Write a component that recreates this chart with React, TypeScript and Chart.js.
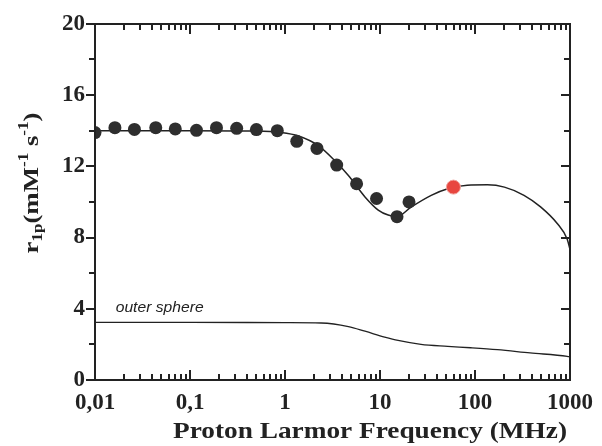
import React, { useEffect, useRef } from "react";
import { Chart, registerables } from "chart.js";

Chart.register(...registerables);

// ---- data ----
const xTickValues = [0.01, 0.1, 1, 10, 100, 1000];
const yTickValues = [0, 4, 8, 12, 16, 20];

const measFreq = [0.01, 0.0162, 0.026, 0.0436, 0.07, 0.117, 0.19, 0.31, 0.5, 0.83, 1.33, 2.17, 3.5, 5.67, 9.2, 15.1, 20.2];
const measR1 = [13.89, 14.17, 14.07, 14.17, 14.1, 14.02, 14.17, 14.13, 14.06, 14.0, 13.4, 13.0, 12.07, 11.02, 10.19, 9.17, 10.0];

const redFreq = [59.3];
const redR1 = [10.83];

const fitFreq = [0.01, 0.1, 0.5, 0.9, 1.39, 2.26, 3.37, 4.65, 6.95, 9.58, 12.2, 15.1, 21.4, 34.6, 51.6, 83, 135, 204, 328, 490, 730, 935, 1000];
const fitR1 = [14.0, 14.0, 13.98, 13.9, 13.7, 13.15, 12.3, 11.48, 10.28, 9.54, 9.26, 9.17, 9.72, 10.37, 10.74, 10.94, 10.96, 10.83, 10.37, 9.72, 8.8, 7.9, 7.33];

const osFreq = [0.01, 0.1, 1, 2.4, 4.65, 6.95, 11.2, 15.5, 27, 51.6, 90, 172, 380, 935, 1000];
const osR1 = [3.24, 3.24, 3.22, 3.2, 3.0, 2.74, 2.41, 2.22, 2.0, 1.89, 1.81, 1.7, 1.52, 1.33, 1.3];

const minorMultipliers = [1, 2, 3, 4, 5, 6, 7, 8, 9];
const yMinorTicks = [0, 2, 4, 6, 8, 10, 12, 14, 16, 18, 20];

const xTitle = "Proton Larmor Frequency (MHz)";
const osLabel = "outer sphere";

const INK = "#222222";
const SERIF = '"Liberation Serif", "Times New Roman", serif';

const pts = (xs: number[], ys: number[]) => xs.map((x, i) => ({ x, y: ys[i] }));

function drawStretched(ctx: CanvasRenderingContext2D, text: string, cx: number, baseline: number, targetW: number, align: "center" | "left") {
  const w = ctx.measureText(text).width;
  const s = targetW / w;
  ctx.save();
  ctx.translate(align === "center" ? cx - targetW / 2 : cx, baseline);
  ctx.scale(s, 1);
  ctx.textAlign = "left";
  ctx.textBaseline = "alphabetic";
  ctx.fillText(text, 0, 0);
  ctx.restore();
}

const framePlugin = {
  id: "frame",
  afterDraw(chart: any) {
    const { ctx, chartArea: a, scales } = chart;
    ctx.save();
    ctx.fillStyle = INK;
    const L = Math.round(a.left), R = Math.round(a.right), T = Math.round(a.top), B = Math.round(a.bottom);
    // frame
    ctx.fillRect(L - 1, T - 1, R - L + 2, 2);
    ctx.fillRect(L - 1, B - 1, R - L + 2, 2);
    ctx.fillRect(L - 1, T - 1, 2, B - T + 2);
    ctx.fillRect(R - 1, T - 1, 2, B - T + 2);

    // x ticks: decades long, minors short; inward on bottom and top
    for (const dec of xTickValues) {
      for (const m of minorMultipliers) {
        const v = dec * m;
        if (v > 1000.0001) continue;
        const px = Math.round(scales.x.getPixelForValue(v));
        const len = m === 1 ? 10 : 6;
        ctx.fillRect(px - 1, B - len, 2, len);
        ctx.fillRect(px - 1, T, 2, len);
      }
    }
    // y ticks: outward on left, inward on right
    for (const v of yMinorTicks) {
      const py = Math.round(scales.y.getPixelForValue(v));
      const len = v % 4 === 0 ? 9 : 6;
      ctx.fillRect(L - len, py - 1, len, 2);
      ctx.fillRect(R - len, py - 1, len, 2);
    }

    // x title
    ctx.font = `bold 23px ${SERIF}`;
    drawStretched(ctx, xTitle, 370, 438, 394, "center");

    // outer sphere label
    ctx.font = 'italic 14px "Liberation Sans", Arial, sans-serif';
    const lx = scales.x.getPixelForValue(0.0165);
    drawStretched(ctx, osLabel, lx, 312, 88, "left");

    // y title: r_1p (mM^-1 s^-1)
    const parts: [string, "n" | "sub" | "sup"][] = [
      ["r", "n"], ["1p", "sub"], ["(mM", "n"], ["-1", "sup"], [" s", "n"], ["-1", "sup"], [")", "n"],
    ];
    const bigF = `bold 22px ${SERIF}`;
    const smallF = `bold 14px ${SERIF}`;
    let total = 0;
    const widths = parts.map(([t, k]) => {
      ctx.font = k === "n" ? bigF : smallF;
      const w = ctx.measureText(t).width;
      total += w;
      return w;
    });
    const s = 141 / total;
    ctx.translate(38, 183);
    ctx.rotate(-Math.PI / 2);
    ctx.scale(s, 1);
    let x = -total / 2;
    ctx.textAlign = "left";
    ctx.textBaseline = "alphabetic";
    parts.forEach(([t, k], i) => {
      ctx.font = k === "n" ? bigF : smallF;
      const dy = k === "sub" ? 4 : k === "sup" ? -10 : 0;
      ctx.fillText(t, x, dy);
      x += widths[i];
    });
    ctx.restore();
  },
};

export default function App() {
  const ref = useRef<HTMLCanvasElement>(null);

  useEffect(() => {
    document.body.style.margin = "0";
    const canvas = ref.current;
    if (!canvas) return;
    const chart = new Chart(canvas, {
      type: "scatter",
      data: {
        datasets: [
          {
            label: "fit",
            type: "line",
            data: pts(fitFreq, fitR1),
            borderColor: INK,
            borderWidth: 1.5,
            pointRadius: 0,
            cubicInterpolationMode: "monotone",
            fill: false,
            order: 3,
          } as any,
          {
            label: "outer sphere",
            type: "line",
            data: pts(osFreq, osR1),
            borderColor: INK,
            borderWidth: 1.3,
            pointRadius: 0,
            cubicInterpolationMode: "monotone",
            fill: false,
            order: 3,
          } as any,
          {
            label: "measured",
            data: pts(measFreq, measR1),
            backgroundColor: "#2e2e2e",
            borderColor: "#2e2e2e",
            pointRadius: 6.5,
            borderWidth: 0,
            order: 1,
          },
          {
            label: "red",
            data: pts(redFreq, redR1),
            backgroundColor: "#e8463f",
            borderColor: "#f0a09a",
            pointRadius: 7,
            borderWidth: 1,
            order: 0,
          },
        ],
      },
      options: {
        responsive: false,
        animation: false,
        layout: { padding: { top: 21, right: 29, left: 0, bottom: 0 } },
        plugins: { legend: { display: false }, tooltip: { enabled: false } },
        scales: {
          x: {
            type: "logarithmic",
            min: 0.01,
            max: 1000,
            grid: { display: false, drawTicks: false },
            border: { display: false },
            afterBuildTicks: (scale: any) => {
              scale.ticks = xTickValues.map((v) => ({ value: v }));
            },
            afterFit: (scale: any) => {
              scale.height = 66;
            },
            ticks: {
              autoSkip: false,
              maxRotation: 0,
              padding: 9,
              color: INK,
              font: { family: SERIF, size: 23, weight: "bold" },
              callback: (v: any) => String(Number(v)).replace(".", ","),
            },
          },
          y: {
            type: "linear",
            min: 0,
            max: 20,
            grid: { display: false, drawTicks: false },
            border: { display: false },
            afterBuildTicks: (scale: any) => {
              scale.ticks = yTickValues.map((v) => ({ value: v }));
            },
            afterFit: (scale: any) => {
              scale.width = 95;
            },
            ticks: {
              padding: 10,
              color: INK,
              font: { family: SERIF, size: 23, weight: "bold" },
              callback: (v: any) => String(v),
            },
          },
        },
      },
      plugins: [framePlugin],
    });
    return () => chart.destroy();
  }, []);

  return (
    <div style={{ position: "absolute", left: 0, top: 0, width: 602, height: 446, background: "#ffffff" }}>
      <canvas ref={ref} width={602} height={446} />
    </div>
  );
}
